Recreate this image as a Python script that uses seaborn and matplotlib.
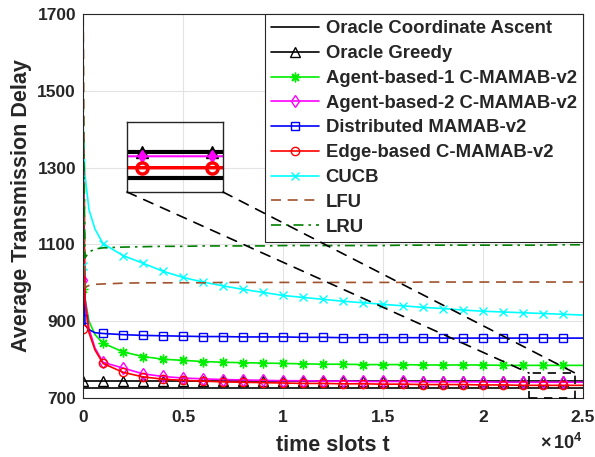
import matplotlib
matplotlib.use("Agg")
import matplotlib.pyplot as plt
import seaborn as sns
from matplotlib.lines import Line2D
from matplotlib.patches import Rectangle, ConnectionPatch
from matplotlib.ticker import FuncFormatter, FixedLocator

# ---------------- data ----------------
t_slots = [0, 2, 100, 300, 600] + list(range(1000, 25001, 1000))

oracle_ca = [726, 726, 726, 726, 726, 726, 726, 726, 726, 726, 726, 726, 726, 726, 726,
             726, 726, 726, 726, 726, 726, 726, 726, 726, 726, 726, 726, 726, 726, 726]
oracle_greedy = [744, 744, 744, 744, 744, 744, 744, 744, 744, 744, 744, 744, 744, 744, 744,
                 744, 744, 744, 744, 744, 744, 744, 744, 744, 744, 744, 744, 744, 744, 744]
agent1 = [983, 1340, 960, 900, 865,
          843, 820, 808, 801, 798, 795, 793, 792, 791, 790, 789, 788, 788, 787, 787,
          787, 786, 786, 786, 786, 785, 785, 785, 785, 785]
agent2 = [1006, 1350, 960, 880, 830,
          793, 778, 763, 756, 752, 750, 748, 747, 746, 745, 745, 744, 744, 743, 743,
          743, 742, 742, 742, 742, 741, 741, 741, 741, 741]
distributed = [905, 1300, 890, 878, 870,
               868, 865, 863, 862, 861, 860, 860, 859, 859, 859, 858, 858, 857, 857, 857,
               857, 857, 856, 856, 856, 856, 856, 856, 856, 856]
edge = [879, 1320, 950, 870, 825,
        790, 767, 755, 749, 746, 744, 742, 741, 740, 739, 738, 738, 737, 737, 736,
        736, 735, 735, 735, 734, 734, 733, 733, 733, 733]
cucb = [1045, 1414, 1280, 1190, 1140,
        1102, 1071, 1051, 1030, 1014, 1002, 992, 983, 975, 967, 962, 957, 952, 948, 944,
        940, 936, 933, 929, 926, 924, 922, 920, 918, 916]
lfu = [985, 1760, 988, 993, 996,
       997, 999, 1000, 1000, 1000, 1000, 1001, 1001, 1001, 1001, 1001, 1001, 1001, 1001, 1001,
       1001, 1002, 1002, 1002, 1002, 1002, 1002, 1002, 1002, 1002]
lru = [1060, 1510, 1065, 1080, 1088,
       1091, 1093, 1094, 1095, 1095, 1096, 1096, 1096, 1096, 1097, 1097, 1097, 1097, 1097, 1097,
       1098, 1098, 1098, 1098, 1098, 1098, 1098, 1098, 1099, 1099]

labels = ["Oracle Coordinate Ascent", "Oracle Greedy", "Agent-based-1 C-MAMAB-v2",
          "Agent-based-2 C-MAMAB-v2", "Distributed MAMAB-v2", "Edge-based C-MAMAB-v2",
          "CUCB", "LFU", "LRU"]
x_ticks = [0, 5000, 10000, 15000, 20000, 25000]
y_ticks = [700, 900, 1100, 1300, 1500, 1700]
zoom_box = (22300, 24600, 700, 765)        # region magnified in the inset
inset_xlim = (22790, 24160)
inset_ylim = (716, 765)

# ---------------- style ----------------
sns.set_style("whitegrid")
plt.rcParams["font.family"] = ["Liberation Sans", "DejaVu Sans"]
plt.rcParams["font.weight"] = "bold"
plt.rcParams["mathtext.fontset"] = "custom"
plt.rcParams["mathtext.rm"] = "Liberation Sans"
plt.rcParams["mathtext.bf"] = "Liberation Sans:bold"

fig = plt.figure(figsize=(5.95, 4.57), dpi=100)
ax = fig.add_axes([83 / 595, 1 - 398 / 457, 500 / 595, 384 / 457])

mark_idx = [0] + [i for i, tv in enumerate(t_slots) if 1000 <= tv <= 24000 and tv % 1000 == 0]

series = [
    (oracle_ca, "black", "None", "-", 6),
    (oracle_greedy, "black", "^", "-", 6.5),
    (agent1, "#00ee00", (8, 2, 0), "-", 7),
    (agent2, "#ff00ff", "d", "-", 6.5),
    (distributed, "#0000ff", "s", "-", 5.5),
    (edge, "#ff0000", "o", "-", 6),
    (cucb, "#00ffff", "x", "-", 6),
    (lfu, "#a0522d", "None", (0, (6, 4)), 6),
    (lru, "#008000", "None", (0, (6, 3, 1.5, 3)), 6),
]

handles = []
for (vals, col, mk, ls, ms), lab in zip(series, labels):
    kws = dict(color=col, linestyle=ls, linewidth=1.2)
    if mk != "None":
        kws.update(marker=mk, markevery=mark_idx, markersize=ms,
                   markerfacecolor="none", markeredgecolor=col, markeredgewidth=1.0)
    sns.lineplot(x=t_slots, y=vals, ax=ax, estimator=None, sort=False, **kws)
    handles.append(Line2D([], [], color=col, linestyle=ls, linewidth=1.2,
                          marker=mk if mk != "None" else None, markersize=ms,
                          markerfacecolor="none", markeredgecolor=col,
                          markeredgewidth=1.0, label=lab))

ax.set_xlim(0, 25000)
ax.set_ylim(700, 1700)
ax.xaxis.set_major_locator(FixedLocator(x_ticks))
ax.yaxis.set_major_locator(FixedLocator(y_ticks))
ax.xaxis.set_major_formatter(FuncFormatter(lambda v, p: f"{v / 1e4:g}"))
ax.tick_params(axis="both", direction="in", length=4, width=0.8, color="#262626",
               labelsize=12.5, labelcolor="#262626")
ax.tick_params(axis="x", pad=9)
ax.tick_params(axis="y", pad=5)
for lab in ax.get_xticklabels() + ax.get_yticklabels():
    lab.set_fontweight("bold")
ax.grid(True, color="#e3e3e3", linewidth=0.8)
for sp in ax.spines.values():
    sp.set_color("#262626")
    sp.set_linewidth(0.8)
ax.set_xlabel("time slots t", fontsize=15.5, fontweight="bold", color="#262626", labelpad=7)
ax.set_ylabel("Average Transmission Delay", fontsize=15.5, fontweight="bold",
              color="#262626", labelpad=4)
fig.text(583 / 595, 4 / 457, r"$\times\,\mathbf{10^{4}}$",
         ha="right", va="bottom", fontsize=13, color="#262626")

leg = ax.legend(handles=handles, loc="upper right", borderaxespad=0,
                prop={"weight": "bold", "size": 13.3}, frameon=True, fancybox=False,
                framealpha=1, edgecolor="#262626", handlelength=2.6, handletextpad=0.35,
                labelspacing=0.42, borderpad=0.35)
leg.get_frame().set_linewidth(0.8)

# dashed box marking the zoomed region
bx0, bx1, by0, by1 = zoom_box
ax.add_patch(Rectangle((bx0, by0), bx1 - bx0, by1 - by0, fill=False, edgecolor="black",
                       linestyle=(0, (5, 4)), linewidth=1.2, clip_on=False, zorder=10))

# inset
ax_in = fig.add_axes([127 / 595, 1 - 192 / 457, 96 / 595, 70 / 457])
ax_in.set_facecolor("none")
sns.lineplot(x=t_slots, y=oracle_ca, ax=ax_in, estimator=None, sort=False,
             color="black", linewidth=3)
sns.lineplot(x=t_slots, y=oracle_greedy, ax=ax_in, estimator=None, sort=False,
             color="black", linewidth=3, marker="^", markevery=mark_idx, markersize=9,
             markerfacecolor="black", markeredgecolor="black", markeredgewidth=1)
sns.lineplot(x=t_slots, y=agent2, ax=ax_in, estimator=None, sort=False,
             color="#ff00ff", linewidth=1.5, marker="d", markevery=mark_idx, markersize=6,
             markerfacecolor="#ff00ff", markeredgecolor="#ff00ff", markeredgewidth=1)
sns.lineplot(x=t_slots, y=edge, ax=ax_in, estimator=None, sort=False,
             color="#ff0000", linewidth=2.5, marker="o", markevery=mark_idx, markersize=8,
             markerfacecolor="none", markeredgecolor="#ff0000", markeredgewidth=2.5)
ax_in.set_xlim(*inset_xlim)
ax_in.set_ylim(*inset_ylim)
ax_in.set_xticks([])
ax_in.set_yticks([])
ax_in.grid(False)
ax_in.set_xlabel("")
ax_in.set_ylabel("")
for sp in ax_in.spines.values():
    sp.set_color("#262626")
    sp.set_linewidth(1.0)

for corner, bx in (((0, 0), bx0), ((1, 0), bx1)):
    con = ConnectionPatch(xyA=corner, coordsA=ax_in.transAxes, xyB=(bx, by1),
                          coordsB=ax.transData, color="black", linestyle=(0, (6, 5)),
                          linewidth=1.2, zorder=20)
    fig.add_artist(con)

fig.savefig("out.png", dpi=100)
